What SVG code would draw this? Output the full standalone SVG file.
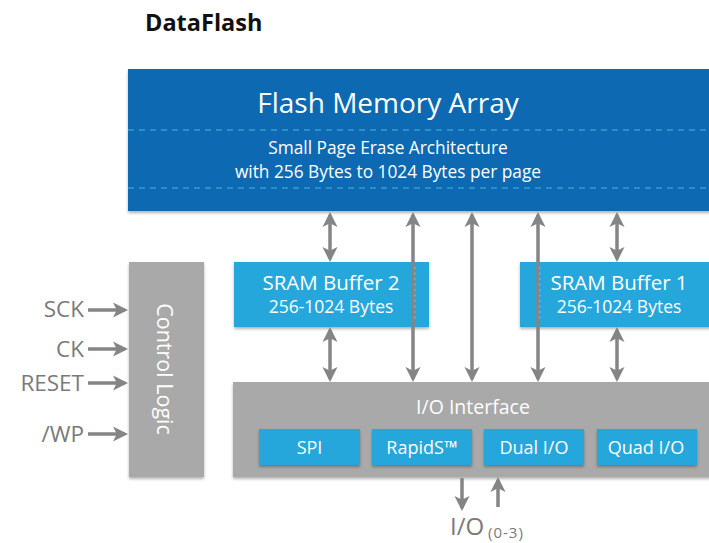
<svg xmlns="http://www.w3.org/2000/svg" width="709" height="543" viewBox="0 0 709 543">
<style>
.w{fill:#ffffff;font-family:"Open Sans","Liberation Sans",sans-serif}
.g{fill:#7a7a7a;font-family:"Open Sans","Liberation Sans",sans-serif}
.ar{stroke:#858585;stroke-width:3.5;fill:none}
.lb{fill:#27a7dc}
.gr{fill:#a9a9a9}
</style>
<defs>
<marker id="ah" viewBox="0 0 10 10" refX="8" refY="5" markerWidth="4.3" markerHeight="4.3" orient="auto-start-reverse" markerUnits="strokeWidth">
<path d="M0,0 L10,5 L0,10 L2.5,5 Z" fill="#858585"/>
</marker>
<filter id="sh" x="-5%" y="-5%" width="110%" height="115%">
<feDropShadow dx="0" dy="2" stdDeviation="1.5" flood-color="#000" flood-opacity="0.3"/>
</filter>
</defs>
<rect width="709" height="543" fill="#ffffff"/>
<text x="145" y="31" font-family="'Open Sans','Liberation Sans',sans-serif" font-weight="bold" font-size="23.5" fill="#111">DataFlash</text>

<g id="flash">
<rect x="128" y="69" width="590" height="142" fill="#0c6bb2" filter="url(#sh)"/>
<line x1="128" y1="130" x2="709" y2="130" stroke="#4ab3e6" stroke-width="1.2" stroke-dasharray="6,5"/>
<line x1="128" y1="188" x2="709" y2="188" stroke="#4ab3e6" stroke-width="1.2" stroke-dasharray="6,5"/>
<text class="w" x="388" y="113" font-size="28" text-anchor="middle">Flash Memory Array</text>
<text class="w" x="388" y="154" font-size="17.3" text-anchor="middle">Small Page Erase Architecture</text>
<text class="w" x="388" y="178" font-size="17.3" text-anchor="middle">with 256 Bytes to 1024 Bytes per page</text>
</g>

<g id="control">
<rect class="gr" x="129" y="262" width="75" height="215" filter="url(#sh)"/>
<text class="w" font-size="21.5" text-anchor="middle" transform="translate(157,369) rotate(90)">Control Logic</text>
</g>

<g id="sram2">
<rect class="lb" x="234" y="262" width="195" height="65" filter="url(#sh)"/>
<line x1="414" y1="268" x2="414" y2="322" stroke="#fff" stroke-width="2.5" stroke-linecap="round" stroke-dasharray="0,5.5"/>
<text class="w" x="331" y="290" font-size="20.5" text-anchor="middle">SRAM Buffer 2</text>
<text class="w" x="331" y="313" font-size="17.5" text-anchor="middle">256-1024 Bytes</text>
</g>

<g id="sram1">
<rect class="lb" x="520" y="262" width="200" height="65" filter="url(#sh)"/>
<line x1="539" y1="268" x2="539" y2="322" stroke="#fff" stroke-width="2.5" stroke-linecap="round" stroke-dasharray="0,5.5"/>
<text class="w" x="619" y="290" font-size="20.5" text-anchor="middle">SRAM Buffer 1</text>
<text class="w" x="619" y="313" font-size="17.5" text-anchor="middle">256-1024 Bytes</text>
</g>

<g id="io">
<rect class="gr" x="233" y="382" width="490" height="95" filter="url(#sh)"/>
<text class="w" x="473" y="414" font-size="19.5" text-anchor="middle">I/O Interface</text>
</g>
<g id="spi">
<rect class="lb" x="259" y="429" width="101" height="36" filter="url(#sh)"/>
<text class="w" x="309.5" y="454" font-size="18" text-anchor="middle">SPI</text>
</g>
<g id="rapids">
<rect class="lb" x="372" y="429" width="100" height="36" filter="url(#sh)"/>
<text class="w" x="422" y="454" font-size="18" text-anchor="middle">RapidS™</text>
</g>
<g id="dual">
<rect class="lb" x="484" y="429" width="100" height="36" filter="url(#sh)"/>
<text class="w" x="534" y="454" font-size="18" text-anchor="middle">Dual I/O</text>
</g>
<g id="quad">
<rect class="lb" x="597" y="429" width="100" height="36" filter="url(#sh)"/>
<text class="w" x="646" y="454" font-size="18" text-anchor="middle">Quad I/O</text>
</g>

<g id="signals">
<text class="g" x="84" y="317" font-size="22.5" text-anchor="end">SCK</text>
<text class="g" x="84" y="357" font-size="22.5" text-anchor="end">CK</text>
<text class="g" x="84" y="391" font-size="22.5" text-anchor="end">RESET</text>
<text class="g" x="84" y="442" font-size="22.5" text-anchor="end">/WP</text>
<text class="g" x="450" y="535" font-size="24">I/O</text>
<text class="g" x="488" y="538" font-size="15" letter-spacing="1">(0-3)</text>
</g>

<g id="connectors">
<line class="ar" x1="88" y1="310" x2="125" y2="310" marker-end="url(#ah)"/>
<line class="ar" x1="88" y1="349" x2="125" y2="349" marker-end="url(#ah)"/>
<line class="ar" x1="88" y1="383" x2="125" y2="383" marker-end="url(#ah)"/>
<line class="ar" x1="88" y1="434" x2="125" y2="434" marker-end="url(#ah)"/>
<line class="ar" x1="330" y1="215" x2="330" y2="259" marker-start="url(#ah)" marker-end="url(#ah)"/>
<line class="ar" x1="617" y1="215" x2="617" y2="259" marker-start="url(#ah)" marker-end="url(#ah)"/>
<line class="ar" x1="330" y1="330" x2="330" y2="379" marker-start="url(#ah)" marker-end="url(#ah)"/>
<line class="ar" x1="617" y1="330" x2="617" y2="379" marker-start="url(#ah)" marker-end="url(#ah)"/>
<line class="ar" x1="413" y1="215" x2="413" y2="379" marker-start="url(#ah)" marker-end="url(#ah)"/>
<line class="ar" x1="472" y1="215" x2="472" y2="379" marker-start="url(#ah)" marker-end="url(#ah)"/>
<line class="ar" x1="538" y1="215" x2="538" y2="379" marker-start="url(#ah)" marker-end="url(#ah)"/>
<line class="ar" x1="462" y1="478" x2="462" y2="508" marker-end="url(#ah)"/>
<line class="ar" x1="498" y1="507" x2="498" y2="480" marker-end="url(#ah)"/>
</g>
</svg>
